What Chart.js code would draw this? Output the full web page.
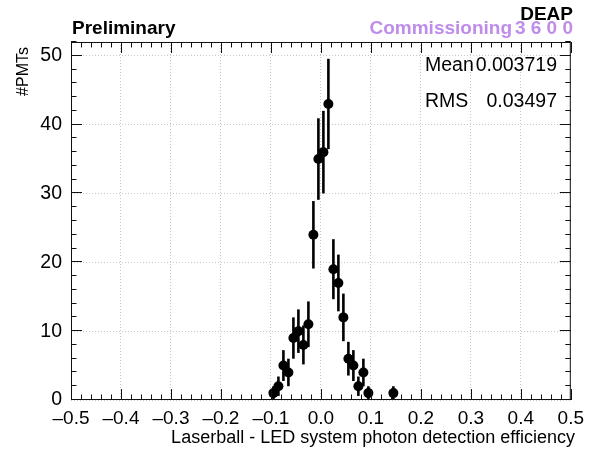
<!DOCTYPE html>
<html>
<head>
<meta charset="utf-8">
<script src="https://cdn.jsdelivr.net/npm/chart.js@4"></script>
<style>
    html, body { margin: 0; padding: 0; background: #fff; }
    canvas { display: block; }
</style>
</head>
<body>
<canvas id="chartPde" width="591" height="450"></canvas>
<script>
// ==========================================
// PDE COMPARISON: LASERBALL vs LED
// ==========================================

const binCenters = [-0.095, -0.085, -0.075, -0.065, -0.055, -0.045, -0.035, -0.025, -0.015, -0.005,
                    0.005, 0.015, 0.025, 0.035, 0.045, 0.055, 0.065, 0.075, 0.085, 0.095, 0.145];
const counts = [1, 2, 5, 4, 9, 10, 8, 11, 24, 35, 36, 43, 19, 17, 12, 6, 5, 2, 4, 1, 1];
const errors = [1, 1.41, 2.24, 2, 3, 3.16, 2.83, 3.32, 4.9, 5.92, 6, 6.56, 4.36, 4.12, 3.46, 2.45, 2.24, 1.41, 2, 1, 1];

const xTicks = [-0.5, -0.4, -0.3, -0.2, -0.1, 0, 0.1, 0.2, 0.3, 0.4, 0.5];
const yTicks = [0, 10, 20, 30, 40, 50];

const statLabels = ["Mean", "RMS"];
const statValues = ["0.003719", "0.03497"];

const FONT = "'Liberation Sans', Arial, Helvetica, sans-serif";
const LAVENDER = "#be8ceb";

function formatX(v) {
    if (Math.abs(v) < 1e-9) return "0.0";
    return v.toFixed(1).replace("-", "\u2013");
}

// error bars, frame and inward ticks (ROOT style)
const rootStyle = {
    id: "rootStyle",
    beforeDatasetsDraw(chart) {
        const { ctx, scales: { x, y } } = chart;
        ctx.save();
        ctx.setLineDash([]);
        ctx.strokeStyle = "#000";
        ctx.lineWidth = 2.6;
        binCenters.forEach((c, i) => {
            const px = x.getPixelForValue(c);
            ctx.beginPath();
            ctx.moveTo(px, y.getPixelForValue(Math.max(0, counts[i] - errors[i])));
            ctx.lineTo(px, y.getPixelForValue(counts[i] + errors[i]));
            ctx.stroke();
        });
        ctx.restore();
    },
    afterDraw(chart) {
        const { ctx, chartArea: a, scales: { x, y } } = chart;
        ctx.save();
        ctx.setLineDash([]);
        ctx.strokeStyle = "#111";
        ctx.lineWidth = 1;
        ctx.strokeRect(a.left + 0.5, a.top + 0.5, a.right - a.left - 1, a.bottom - a.top - 1);

        ctx.beginPath();
        // x ticks every 0.02, major every 0.1
        for (let i = 0; i <= 50; i++) {
            const px = Math.round(x.getPixelForValue(-0.5 + i * 0.02)) + 0.5;
            const len = i % 5 === 0 ? 11 : 5.5;
            ctx.moveTo(px, a.bottom);
            ctx.lineTo(px, a.bottom - len);
            ctx.moveTo(px, a.top);
            ctx.lineTo(px, a.top + len);
        }
        // y ticks every 2, major every 10
        for (let v = 0; v <= 52; v += 2) {
            const py = Math.round(y.getPixelForValue(v)) - 0.5;
            const len = v % 10 === 0 ? 11 : 5.5;
            ctx.moveTo(a.left, py);
            ctx.lineTo(a.left + len, py);
            ctx.moveTo(a.right, py);
            ctx.lineTo(a.right - len, py);
        }
        ctx.stroke();

        // titles
        ctx.fillStyle = "#000";
        ctx.font = "bold 19px " + FONT;
        ctx.textAlign = "left";
        ctx.textBaseline = "alphabetic";
        ctx.fillText("Preliminary", 72, 34);

        ctx.textAlign = "right";
        ctx.fillText("DEAP", 573, 20);

        ctx.fillStyle = LAVENDER;
        ctx.font = "bold 19px " + FONT;
        ctx.fillText("Commissioning", 512, 34);
        ctx.textAlign = "left";
        ["3", "6", "0", "0"].forEach((d, i) => ctx.fillText(d, 515 + i * 15.8, 34));

        // stats
        ctx.fillStyle = "#000";
        ctx.font = "19.5px " + FONT;
        statLabels.forEach((lbl, i) => {
            const base = 71 + i * 36;
            ctx.textAlign = "left";
            ctx.fillText(lbl, 425, base);
            ctx.textAlign = "right";
            ctx.fillText(statValues[i], 557, base);
        });

        // axis titles
        ctx.font = "18px " + FONT;
        ctx.textAlign = "right";
        ctx.fillText("Laserball - LED system photon detection efficiency", 575, 443);

        ctx.translate(28, 47);
        ctx.rotate(-Math.PI / 2);
        ctx.font = "16px " + FONT;
        ctx.textAlign = "right";
        ctx.fillText("#PMTs", 0, 0);
        ctx.restore();
    }
};

const chart = new Chart(document.getElementById("chartPde"), {
    type: "scatter",
    data: {
        datasets: [{
            data: binCenters.map((c, i) => ({ x: c, y: counts[i] })),
            pointRadius: 5,
            pointHoverRadius: 5,
            pointBackgroundColor: "#000",
            pointBorderWidth: 0,
            showLine: false
        }]
    },
    options: {
        responsive: false,
        animation: false,
        layout: { padding: { left: 0, top: 42, right: 18, bottom: 0 } },
        plugins: {
            legend: { display: false },
            tooltip: { enabled: false }
        },
        scales: {
            x: {
                type: "linear",
                min: -0.5,
                max: 0.5,
                afterFit(scale) { scale.height = 50; },
                afterBuildTicks(scale) { scale.ticks = xTicks.map(v => ({ value: v })); },
                border: { display: false, dash: [1, 2] },
                grid: { color: "#c8c8c8", drawTicks: false, lineWidth: 1 },
                ticks: {
                    maxRotation: 0,
                    autoSkip: false,
                    padding: 7,
                    color: "#000",
                    font: { family: FONT, size: 19 },
                    callback: v => formatX(v)
                }
            },
            y: {
                min: 0,
                max: 52,
                afterFit(scale) { scale.width = 71; },
                afterBuildTicks(scale) { scale.ticks = yTicks.map(v => ({ value: v })); },
                border: { display: false, dash: [1, 2] },
                grid: { color: "#c8c8c8", drawTicks: false, lineWidth: 1 },
                ticks: {
                    padding: 9,
                    color: "#000",
                    font: { family: FONT, size: 19.5 },
                    callback: v => String(v)
                }
            }
        }
    },
    plugins: [rootStyle]
});
</script>
</body>
</html>
